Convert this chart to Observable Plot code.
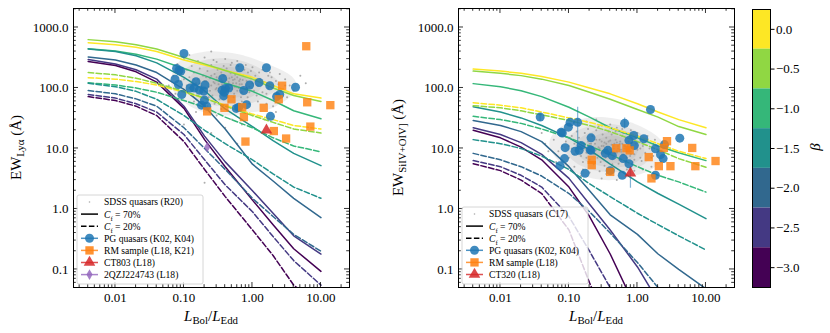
<!DOCTYPE html>
<html><head><meta charset="utf-8">
<script src="https://cdn.jsdelivr.net/npm/d3@7"></script>
<script src="https://cdn.jsdelivr.net/npm/@observablehq/plot@0.6"></script>
<style>
body{margin:0;background:#fff;}
#wrap{position:relative;width:830px;height:333px;font-family:"Liberation Serif",serif;}
#wrap svg{position:absolute;top:0;overflow:visible;}
</style></head><body><div id="wrap"></div>
<script>
// ---------- data ----------
const xGrid = [0.004,0.01,0.02,0.04,0.1,0.2,0.4,1,2,4,10];
const betas = [0,-0.5,-1,-1.5,-2,-2.5,-3];

const lyaSolid = [
 [560,520,470,400,290,240,195,150,110,80,68],
 [630,580,520,440,320,250,195,140,100,75,60],
 [445,410,360,300,210,160,120,88,62,42,31],
 [440,400,340,260,150,90,45,23,13.5,8.3,5.2],
 [325,290,240,180,95,50,21,5.5,2.9,1.5,0.72],
 [295,250,200,140,50,16,6,2.0,0.85,0.36,0.18],
 [275,235,185,125,46,14,5,1.4,0.55,0.22,0.093]
];
const lyaDashed = [
 [148,140,128,112,85,68,52,37,30,24,21],
 [180,165,145,120,88,68,50,35,27,21,18],
 [122,112,100,85,62,48,33,22,15,11,8.8],
 [120,105,88,65,35,20,12,6.5,3.8,2.3,1.5],
 [91,80,66,50,22,10,4.5,1.5,0.75,0.38,0.2],
 [78,68,55,40,17,6.5,2.5,0.9,0.35,0.14,0.055],
 [72,62,50,35,13,4.5,1.6,0.45,0.17,0.055,0.025]
];
const siSolid = [
 [205,190,175,155,125,100,80,55,40,30,22],
 [190,175,160,140,110,85,65,44,33,23,17],
 [118,105,90,72,48,33,22,15,11,8.5,6.3],
 [49,40,32,24,15,9.5,5.5,2.8,1.8,1.2,0.69],
 [29,24,19,13,5,2.0,0.8,0.38,0.18,0.1,0.048],
 [22,17,12.5,8,3.2,1.2,0.45,0.11,0.03,0.01,0.003],
 [20,15,10.5,6.5,2.3,0.75,0.18,0.02,0.004,0.001,0.0003]
];
const siDashed = [
 [57,52,47,40,32,27,22,16,12,9,6.8],
 [51,47,42,36,29,24,19,13,9.5,6.8,4.9],
 [34,30,26,21,15,11,8,5,3.6,2.8,1.9],
 [14,12,10,7.5,4.5,2.6,1.6,0.85,0.55,0.36,0.21],
 [8.3,6.5,5,3.5,1.8,0.9,0.4,0.13,0.05,0.02,0.008],
 [6.3,5,3.6,2.3,0.75,0.2,0.05,0.008,0.002,0.0005,0.0001],
 [5.6,4.3,3.0,1.8,0.45,0.06,0.01,0.001,0.0002,0.00005,0.00001]
];

const lyaCloud = [
 [0.12,150],[0.13,120],[0.14,180],[0.15,95],[0.16,140],[0.17,210],[0.18,110],[0.19,160],[0.2,85],[0.21,130],
 [0.22,190],[0.23,105],[0.24,145],[0.25,240],[0.26,75],[0.27,125],[0.28,170],[0.29,95],[0.3,135],[0.31,200],
 [0.32,115],[0.33,155],[0.34,88],[0.35,180],[0.36,130],[0.37,100],[0.38,160],[0.4,120],[0.42,210],[0.44,90],
 [0.46,145],[0.48,175],[0.5,110],[0.52,135],[0.54,80],[0.56,165],[0.58,120],[0.6,190],[0.63,100],[0.66,140],
 [0.7,115],[0.74,160],[0.78,95],[0.82,130],[0.86,180],[0.9,105],[0.95,145],[1.0,120],[1.05,90],[1.1,160],
 [1.2,110],[1.3,140],[1.4,85],[1.5,125],[1.7,100],[1.9,150],[2.1,80],[2.4,115],[2.8,95],[3.2,70],
 [0.07,160],[0.08,250],[0.09,130],[0.1,300],[0.1,90],[0.11,200],[0.06,110],[0.075,80],[0.085,60],[0.12,350],
 [0.14,60],[0.16,280],[0.18,55],[0.2,320],[0.22,50],[0.25,400],[0.28,55],[0.3,270],[0.35,45],[0.4,300],
 [0.45,60],[0.5,260],[0.55,50],[0.6,280],[0.7,60],[0.8,240],[0.9,55],[1.0,220],[1.2,60],[1.4,200],
 [1.6,55],[1.8,180],[2.0,50],[2.5,170],[3.0,140],[3.5,110],[4.0,90],[2.2,40],[1.0,35],[0.5,30],
 [0.3,35],[0.15,40],[0.7,25],[1.5,30],[0.25,18],[0.6,12],[0.2,2.7],[0.1,25],[0.4,22],[5,160],[6,120],
 [0.2,100],[0.25,110],[0.3,100],[0.35,105],[0.4,95],[0.45,115],[0.5,95],[0.55,105],[0.6,90],[0.65,115],
 [0.7,85],[0.3,150],[0.4,160],[0.5,150],[0.6,150],[0.25,160],[0.2,130],[0.35,140],[0.45,125],[0.55,140],
 [0.8,110],[1.1,130],[0.9,85],[0.18,85],[0.15,120],
 [0.11,110],[0.13,230],[0.16,75],[0.19,250],[0.23,70],[0.27,290],[0.33,65],[0.38,230],[0.43,70],[0.48,240],
 [0.53,70],[0.62,230],[0.68,70],[0.76,200],[0.85,70],[0.95,190],[1.15,75],[1.25,180],[1.6,80],[1.7,160],
 [2.2,130],[2.6,90],[3.0,110],[0.09,170],[0.1,140],[0.12,100],[0.14,140],[0.17,120],[0.21,150],[0.24,90],
 [0.28,120],[0.32,130],[0.36,115],[0.42,135],[0.47,100],[0.52,120],[0.58,105],[0.64,130],[0.72,135],[0.8,95]
];
const siCloud = [
 [0.12,12],[0.13,9],[0.14,15],[0.15,7.5],[0.16,11],[0.17,18],[0.18,8.5],[0.19,13],[0.2,6.5],[0.21,10],
 [0.22,16],[0.23,8],[0.24,12],[0.25,20],[0.26,7],[0.27,10.5],[0.28,14],[0.29,6],[0.3,11],[0.31,17],
 [0.32,8.5],[0.33,12.5],[0.34,7],[0.35,15],[0.36,10],[0.37,8],[0.38,13],[0.4,9.5],[0.42,17],[0.44,7],
 [0.46,12],[0.48,14],[0.5,8.5],[0.52,11],[0.54,6.5],[0.56,13],[0.58,9.5],[0.6,16],[0.63,8],[0.66,11],
 [0.7,9],[0.74,13],[0.78,7.5],[0.82,10.5],[0.86,14],[0.9,8],[0.95,12],[1.0,9.5],[1.1,7],[1.2,11],
 [1.3,8.5],[1.5,10],[1.7,7.5],[2.0,9],
 [0.06,14],[0.07,20],[0.08,11],[0.09,25],[0.1,7],[0.11,16],[0.05,9],[0.065,6],[0.085,5],[0.1,30],
 [0.12,5],[0.14,24],[0.16,4.5],[0.18,28],[0.2,4],[0.25,30],[0.28,4.2],[0.3,24],[0.35,3.8],[0.4,25],
 [0.45,4.5],[0.5,22],[0.55,4],[0.6,21],[0.7,4.5],[0.8,20],[0.9,4.3],[1.0,18],[1.2,4.5],[1.4,16],
 [1.6,5],[1.8,14],[2.2,6],[2.5,12],[3,10],[0.3,3.2],[0.5,3],[0.15,3.5],[0.08,16],[0.045,12],[0.07,9],[0.04,18],
 [0.2,9],[0.25,9.5],[0.3,8.5],[0.35,9],[0.4,8],[0.45,10],[0.5,9],[0.55,9.5],[0.6,8],[0.65,10],
 [0.7,7],[0.3,13],[0.4,13.5],[0.5,12.5],[0.6,12],[0.25,14],[0.2,12],[0.35,12],[0.45,11],[0.55,12],
 [0.8,9],[1.1,10],[0.9,6.5],[0.18,7],[0.15,10],
 [0.11,10],[0.13,19],[0.16,6],[0.19,21],[0.23,5.5],[0.27,23],[0.33,5.2],[0.38,19],[0.43,5.5],[0.48,19],
 [0.53,5.6],[0.62,18],[0.68,5.8],[0.76,16],[0.85,6],[0.95,15],[1.15,6.2],[1.25,14],[1.6,7],[1.7,12],
 [0.09,13],[0.1,11],[0.12,8],[0.14,11],[0.17,10],[0.21,12],[0.24,8],[0.28,10],[0.32,11],[0.36,9.5],
 [0.42,11.5],[0.47,8.5],[0.52,10],[0.58,8.8],[0.64,11],[0.72,11],[0.8,8]
];

const lyaPG = [
 [0.10,372],[0.078,210],[0.09,190],[0.085,195],[0.074,140],[0.083,114],[0.093,78],[0.123,100],[0.141,100],
 [0.15,127],[0.168,92],[0.203,112],[0.18,52],[0.194,89],[0.199,63],[0.215,50],[0.368,143],[0.652,216],
 [1.6,216],[0.403,98],[0.38,74],[0.45,100],[0.36,92],[0.39,85],[0.746,91],[0.91,112],[1.25,123],
 [1.79,109],[2.25,72],[2.5,78],[4.25,103],[1.83,34],[0.63,48],[0.58,46],[0.82,53]
];
const lyaRM = [
 [0.218,41],[0.39,47],[0.494,65],[0.707,48],[0.75,33],[0.79,13],[1.46,47],[2.05,19.4],[2.71,109],
 [2.42,65],[3.1,14.6],[6.1,490],[6.3,58],[7.0,23],[13.7,52]
];
const lyaCT803 = [[1.6,20]];
const lyaQZJ = [[0.218,10.5]];

const siPG = [
 [0.038,33],[0.077,18.6],[0.098,22.5],[0.104,27],[0.134,27],[0.088,10.3],[0.086,6.8],[0.123,9.0],
 [0.141,9.3],[0.15,11.2],[0.204,9.5],[0.172,3.9],[0.074,5.2],[1.55,44],[4.15,14.8],[0.65,26],[0.88,16.4],
 [0.75,13.6],[0.90,11.2],[1.24,14.5],[1.83,9.9],[2.17,7.9],[2.37,6.8],[2.48,11.6],[0.37,9.3],[0.43,7.6],
 [0.62,6.8],[0.75,5.6],[0.6,3.6],[1.83,3.6],[0.21,15],[0.21,9.3],[0.08,18],[0.34,8.3],[0.40,4.3]
];
const siPGerr = [[0.134,10.5,48],[0.65,21,32],[0.79,2.2,5.0],[0.038,28,38]];
const siRM = [
 [0.215,6.5],[0.215,5.3],[0.4,4.1],[0.49,10.1],[0.69,10.1],[0.77,9.3],[1.46,7.2],[1.6,3.2],[2.05,5.1],
 [2.43,10.2],[2.7,13.2],[3.03,5.1],[6.3,10.2],[7.0,5.1],[13.8,6.2]
];
const siCT320 = [[0.79,3.9]];

const xMajor = [0.01,0.1,1,10];
const yMajor = [0.1,1,10,100,1000];
const xMinor = [0.003,0.004,0.005,0.006,0.007,0.008,0.009,0.02,0.03,0.04,0.05,0.06,0.07,0.08,0.09,
 0.2,0.3,0.4,0.5,0.6,0.7,0.8,0.9,2,3,4,5,6,7,8,9,20];
const yMinor = [0.06,0.07,0.08,0.09,0.2,0.3,0.4,0.5,0.6,0.7,0.8,0.9,2,3,4,5,6,7,8,9,
 20,30,40,50,60,70,80,90,200,300,400,500,600,700,800,900,2000];

const cols = {pg:"#1f77b4", rm:"#ff7f0e", red:"#d62728", purple:"#9467bd"};
const FONT = "'Liberation Serif', 'DejaVu Serif', serif";

// ---------- helpers ----------
const wrap = document.getElementById("wrap");
const colorScale = {type:"linear", scheme:"viridis", domain:[-3,0]};
const toRows = m => m.flatMap((ys,i)=>ys.map((y,j)=>({x:xGrid[j], y, beta:betas[i]})));
const pts = a => a.map(([x,y])=>({x,y}));

function rich(sel, parts, size) {
  let shift = 0;
  for (const p of parts) {
    const t = sel.append("tspan").text(p.t);
    if (p.i) t.attr("font-style","italic");
    if (p.sub) { t.attr("font-size", size*0.72).attr("dy", 3 - shift); shift = 3; }
    else { if (shift) t.attr("dy", -shift); shift = 0; }
  }
}

function makePanel(cfg) {
  const marks = [
    Plot.density(pts(cfg.cloud), {x:"x", y:"y", fill:"#a8a8a8", fillOpacity:0.2, stroke:"none", bandwidth:8, thresholds:7, clip:true}),
    Plot.dot(pts(cfg.cloud), {x:"x", y:"y", r:1, fill:"#9a9a9a", fillOpacity:0.8, clip:true}),
    Plot.line(toRows(cfg.solid), {x:"x", y:"y", z:"beta", stroke:"beta", strokeWidth:1.5, clip:true}),
    Plot.line(toRows(cfg.dashed), {x:"x", y:"y", z:"beta", stroke:"beta", strokeWidth:1.5, strokeDasharray:"5.5,2.4", clip:true}),
    Plot.ruleX(cfg.err.map(([x,lo,hi])=>({x,lo,hi})), {x:"x", y1:"lo", y2:"hi", stroke:cols.pg, strokeOpacity:0.55, strokeWidth:1.2}),
    Plot.dot(pts(cfg.pg), {x:"x", y:"y", r:4.5, fill:cols.pg, fillOpacity:0.85}),
    Plot.dot(pts(cfg.rm), {x:"x", y:"y", r:4.7, symbol:"square", fill:cols.rm, fillOpacity:0.8}),
    Plot.dot(pts(cfg.tri), {x:"x", y:"y", r:4.3, symbol:"triangle", fill:cols.red, fillOpacity:0.85}),
  ];
  if (cfg.dia) marks.push(Plot.dot(pts(cfg.dia), {x:"x", y:"y", r:3.2, symbol:"diamond", fill:cols.purple, fillOpacity:0.8}));
  marks.push(
    Plot.axisX({ticks:xMajor, tickFormat:d=>d.toFixed(2), tickSize:0, tickPadding:5, label:null, fontSize:13}),
    Plot.axisY({ticks:yMajor, tickFormat:d=>d.toFixed(1), tickSize:0, tickPadding:5, label:null, fontSize:13}),
    Plot.frame({stroke:"black", strokeWidth:1})
  );
  const p = Plot.plot({
    width:360, height:333, marginLeft:73, marginRight:11, marginTop:8, marginBottom:46,
    style:{fontFamily:FONT, fontSize:"13px", background:"transparent", color:"black"},
    x:{type:"log", domain:[0.00244, 26.1]},
    y:{type:"log", domain:[0.0503, 2060]},
    color:colorScale,
    marks
  });
  p.style.left = cfg.left + "px";
  wrap.appendChild(p);
  const svg = d3.select(p);
  const sx = p.scale("x"), sy = p.scale("y");
  const [xl, xr] = sx.range, [yb, yt] = sy.range;
  const g = svg.append("g").attr("stroke","black").attr("stroke-width",0.8);
  const tick = (x1,y1,x2,y2)=>g.append("line").attr("x1",x1).attr("y1",y1).attr("x2",x2).attr("y2",y2);
  for (const [vals,len] of [[xMajor,5],[xMinor,2.8]]) for (const v of vals) {
    const X = sx.apply(v); tick(X,yb,X,yb-len); tick(X,yt,X,yt+len);
  }
  for (const [vals,len] of [[yMajor,5],[yMinor,2.8]]) for (const v of vals) {
    const Y = sy.apply(v); tick(xl,Y,xl+len,Y); tick(xr,Y,xr-len,Y);
  }
  // axis labels
  const xt = svg.append("text").attr("x",(xl+xr)/2).attr("y",321).attr("text-anchor","middle")
    .attr("font-size",15).attr("font-family",FONT).attr("fill","black");
  rich(xt, [{t:"L",i:1},{t:"Bol",sub:1},{t:"/"},{t:"L",i:1},{t:"Edd",sub:1}], 15);
  const yt2 = svg.append("text").attr("transform",`translate(${cfg.ylabX},${(yb+yt)/2}) rotate(-90)`)
    .attr("text-anchor","middle").attr("font-size",15).attr("font-family",FONT).attr("fill","black");
  rich(yt2, cfg.ylab, 15);
  // legend
  const L = cfg.legend;
  const lg = svg.append("g").attr("font-family",FONT).attr("font-size",9.6).attr("text-anchor","start");
  lg.append("rect").attr("x",77).attr("y",L.top).attr("width",126).attr("height",L.bottom-L.top)
    .attr("rx",2).attr("fill","white").attr("fill-opacity",0.8).attr("stroke","#cccccc").attr("stroke-width",0.8);
  L.entries.forEach((e,k)=>{
    const y = L.top + 7 + k*12.1, hx0 = 81, hx1 = 98, hc = 89.5;
    if (e.kind==="dot") lg.append("circle").attr("cx",hc).attr("cy",y).attr("r",0.8).attr("fill","#a9a9a9");
    else if (e.kind==="solid") lg.append("line").attr("x1",hx0).attr("x2",hx1).attr("y1",y).attr("y2",y).attr("stroke","black").attr("stroke-width",1.5);
    else if (e.kind==="dash") lg.append("line").attr("x1",hx0).attr("x2",hx1).attr("y1",y).attr("y2",y).attr("stroke","black").attr("stroke-width",1.5).attr("stroke-dasharray","5.5,2.4");
    else {
      lg.append("line").attr("x1",hx0).attr("x2",hx1).attr("y1",y).attr("y2",y).attr("stroke",e.color).attr("stroke-opacity",0.8).attr("stroke-width",1.5);
      const sym = {circle:d3.symbolCircle, square:d3.symbolSquare, triangle:d3.symbolTriangle, diamond:d3.symbolDiamond}[e.kind];
      const r = {circle:4.5, square:4.7, triangle:4.3, diamond:3.2}[e.kind];
      lg.append("path").attr("d", d3.symbol(sym, Math.PI*r*r)()).attr("transform",`translate(${hc},${y})`).attr("fill",e.color).attr("fill-opacity",0.85);
    }
    const t = lg.append("text").attr("x",104).attr("y",y+3.4).attr("fill","black").attr("text-anchor","start");
    rich(t, e.parts, 9.6);
  });
}

const cf = v => [{t:"C",i:1},{t:"f",sub:1},{t:" = "+v}];

makePanel({
  left:0, cloud:lyaCloud, solid:lyaSolid, dashed:lyaDashed, err:[], pg:lyaPG, rm:lyaRM, tri:lyaCT803, dia:lyaQZJ,
  ylabX:21, ylab:[{t:"EW"},{t:"Lyα",sub:1},{t:" (Å)"}],
  legend:{top:195, bottom:284, entries:[
    {kind:"dot", parts:[{t:"SDSS quasars (R20)"}]},
    {kind:"solid", parts:cf("70%")},
    {kind:"dash", parts:cf("20%")},
    {kind:"circle", color:cols.pg, parts:[{t:"PG quasars (K02, K04)"}]},
    {kind:"square", color:cols.rm, parts:[{t:"RM sample (L18, K21)"}]},
    {kind:"triangle", color:cols.red, parts:[{t:"CT803 (L18)"}]},
    {kind:"diamond", color:cols.purple, parts:[{t:"2QZJ224743 (L18)"}]}
  ]}
});
makePanel({
  left:385, cloud:siCloud, solid:siSolid, dashed:siDashed, err:siPGerr, pg:siPG, rm:siRM, tri:siCT320, dia:null,
  ylabX:18, ylab:[{t:"EW"},{t:"SiIV+OIV]",sub:1},{t:" (Å)"}],
  legend:{top:207, bottom:284, entries:[
    {kind:"dot", parts:[{t:"SDSS quasars (C17)"}]},
    {kind:"solid", parts:cf("70%")},
    {kind:"dash", parts:cf("20%")},
    {kind:"circle", color:cols.pg, parts:[{t:"PG quasars (K02, K04)"}]},
    {kind:"square", color:cols.rm, parts:[{t:"RM sample (L18)"}]},
    {kind:"triangle", color:cols.red, parts:[{t:"CT320 (L18)"}]}
  ]}
});

// ---------- colorbar ----------
const cb = Plot.plot({
  width:90, height:333, marginLeft:12, marginRight:60, marginTop:9, marginBottom:46,
  style:{fontFamily:FONT, fontSize:"13px", background:"transparent", color:"black"},
  x:{domain:[0,1], axis:null},
  y:{domain:[-3.25,0.25]},
  color:colorScale,
  marks:[
    Plot.rect(betas, {x1:0, x2:1, y1:d=>d-0.25, y2:d=>d+0.25, fill:d=>d}),
    Plot.axisY({anchor:"right", ticks:betas, tickFormat:d=>d.toFixed(1).replace("-","\u2212"), tickSize:3.5, tickPadding:2, label:null, fontSize:13}),
    Plot.frame({stroke:"black", strokeWidth:1})
  ]
});
cb.style.left = "740px";
wrap.appendChild(cb);
d3.select(cb).append("text").attr("transform","translate(80,147) rotate(-90)").attr("text-anchor","middle")
  .attr("font-family",FONT).attr("font-size",15).attr("font-style","italic").attr("fill","black").text("β");
</script></body></html>
